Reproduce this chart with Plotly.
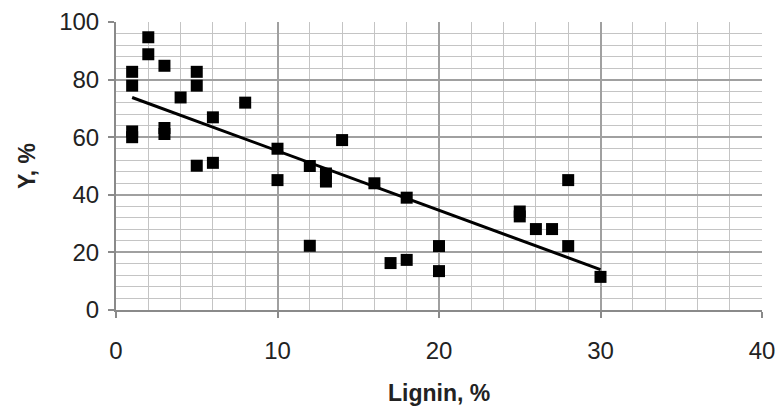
import numpy as np
import plotly.graph_objects as go

lignin = [1, 1, 1, 1, 2, 2, 3, 3, 3, 4, 5, 5, 5, 6, 6, 8, 10, 10, 12, 12,
          13, 13, 14, 16, 17, 18, 18, 20, 20, 25, 25, 26, 27, 28, 28, 30]
y_vals = [82.7, 77.9, 62, 60, 94.7, 88.8, 84.8, 63.2, 61.1, 73.8, 82.7, 77.9, 50.1,
          66.9, 51.1, 72, 56, 45.1, 50, 22.3, 47.4, 44.6, 59, 44, 16.3, 39, 17.4,
          22.2, 13.5, 34.2, 32.5, 28.1, 28.1, 45.1, 22.2, 11.5]

x_ticks = [0, 10, 20, 30, 40]
y_ticks = [0, 20, 40, 60, 80, 100]
x_title = "<b>Lignin, %</b>"
y_title = "<b>Y, %</b>"

xa = np.array(lignin, dtype=float)
ya = np.array(y_vals, dtype=float)
slope, intercept = np.polyfit(xa, ya, 1)
x_fit = np.array([xa.min(), xa.max()])
y_fit = slope * x_fit + intercept

fig = go.Figure()
fig.add_trace(go.Scatter(x=x_fit, y=y_fit, mode="lines",
                         line=dict(color="black", width=3), showlegend=False,
                         hoverinfo="skip"))
fig.add_trace(go.Scatter(x=lignin, y=y_vals, mode="markers",
                         marker=dict(symbol="square", size=12, color="black"),
                         showlegend=False))

font = "Liberation Sans, Arial, sans-serif"
W, H = 777, 406
L, R, T, B = 116, 15, 22, 96
fig.update_layout(
    width=W, height=H,
    margin=dict(l=L, r=R, t=T, b=B, autoexpand=False),
    paper_bgcolor="white", plot_bgcolor="white",
    font=dict(family=font, size=24, color="#222222"),
    xaxis=dict(range=[0, 40], tickvals=x_ticks, showgrid=True,
               gridcolor="#a0a0a0", gridwidth=2,
               minor=dict(dtick=2, showgrid=True, gridcolor="#c4c4c4", gridwidth=1.3),
               showline=True, linecolor="#8a8a8a", linewidth=2,
               ticks="outside", ticklen=6, tickcolor="#8a8a8a", tickwidth=2,
               zeroline=False, automargin=False, ticklabelstandoff=12),
    yaxis=dict(range=[0, 100], tickvals=y_ticks, showgrid=True,
               gridcolor="#a0a0a0", gridwidth=2,
               minor=dict(dtick=4, showgrid=True, gridcolor="#c4c4c4", gridwidth=1.3),
               showline=True, linecolor="#8a8a8a", linewidth=2,
               ticks="outside", ticklen=6, tickcolor="#8a8a8a", tickwidth=2,
               zeroline=False, ticklabelstandoff=4, automargin=False),
    annotations=[
        dict(text=x_title, xref="paper", yref="paper",
             x=0.5, y=-(393 - (H - B)) / (H - T - B), xanchor="center", yanchor="middle",
             showarrow=False, font=dict(size=23, family=font, color="#222222")),
        dict(text=y_title, xref="paper", yref="paper",
             x=-(L - 27) / (W - L - R), y=0.5, xanchor="center", yanchor="middle",
             textangle=-90, showarrow=False,
             font=dict(size=23, family=font, color="#222222")),
    ],
)

fig.write_html("out.html")
